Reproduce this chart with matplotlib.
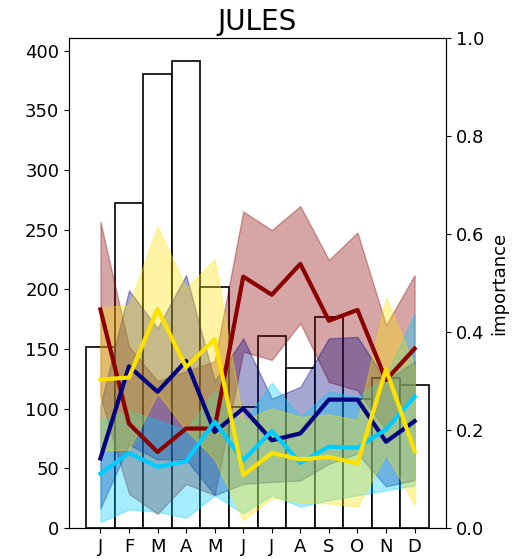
import matplotlib
matplotlib.use('Agg')

import matplotlib.pyplot as plt
import numpy as np

# month labels and bar counts (left axis)
months = ['J', 'F', 'M', 'A', 'M', 'J', 'J', 'A', 'S', 'O', 'N', 'D']
counts = [152, 272, 380, 391, 202, 101, 161, 134, 177, 108, 126, 120]

# importance series (right axis): mean, lower and upper envelope
red_mean = [0.446, 0.213, 0.155, 0.203, 0.203, 0.513, 0.476, 0.539, 0.423, 0.445, 0.302, 0.366]
red_lo = [0.268, 0.070, 0.029, 0.090, 0.067, 0.360, 0.343, 0.418, 0.298, 0.281, 0.200, 0.268]
red_hi = [0.625, 0.370, 0.300, 0.320, 0.340, 0.646, 0.608, 0.657, 0.547, 0.603, 0.414, 0.516]

navy_mean = [0.142, 0.330, 0.278, 0.341, 0.196, 0.244, 0.179, 0.193, 0.262, 0.262, 0.176, 0.218]
navy_lo = [0.040, 0.170, 0.140, 0.140, 0.067, 0.090, 0.094, 0.097, 0.131, 0.152, 0.085, 0.098]
navy_hi = [0.250, 0.485, 0.408, 0.516, 0.300, 0.387, 0.264, 0.288, 0.387, 0.390, 0.300, 0.340]

cyan_mean = [0.111, 0.153, 0.125, 0.136, 0.217, 0.138, 0.198, 0.133, 0.166, 0.164, 0.201, 0.268]
cyan_lo = [0.012, 0.038, 0.033, 0.021, 0.067, 0.030, 0.067, 0.044, 0.057, 0.067, 0.077, 0.087]
cyan_hi = [0.220, 0.240, 0.220, 0.200, 0.280, 0.214, 0.296, 0.227, 0.278, 0.268, 0.309, 0.438]

gold_mean = [0.303, 0.307, 0.447, 0.328, 0.385, 0.108, 0.153, 0.140, 0.145, 0.132, 0.324, 0.157]
gold_lo = [0.158, 0.160, 0.275, 0.200, 0.140, 0.016, 0.062, 0.053, 0.050, 0.044, 0.150, 0.048]
gold_hi = [0.450, 0.455, 0.615, 0.490, 0.548, 0.220, 0.244, 0.227, 0.232, 0.220, 0.471, 0.330]

series = [
    (red_mean, red_lo, red_hi, 'darkred'),
    (navy_mean, navy_lo, navy_hi, 'navy'),
    (cyan_mean, cyan_lo, cyan_hi, '#00CCFF'),
    (gold_mean, gold_lo, gold_hi, '#FFE100'),
]

x = np.arange(len(months))

fig = plt.figure(figsize=(5.16, 5.59), dpi=100)
ax = fig.add_axes([69 / 516, 1 - 528 / 559, 377 / 516, 490 / 559])

ax.bar(x, counts, width=1.0, facecolor='white', edgecolor='black', linewidth=1.2)
ax.set_xticks(x)
ax.set_xticklabels(months)
ax.tick_params(labelsize=13)
ax.set_title('JULES', fontsize=20)

ax2 = ax.twinx()
for mean, lo, hi, c in series:
    ax2.fill_between(x, lo, hi, color=c, alpha=0.35)
for mean, lo, hi, c in series:
    ax2.plot(x, mean, color=c, linewidth=3)

ax2.set_ylim(0, 1)
ax2.tick_params(labelsize=13)
ax2.set_ylabel('importance', fontsize=13)

fig.savefig('out.png', dpi=100)
